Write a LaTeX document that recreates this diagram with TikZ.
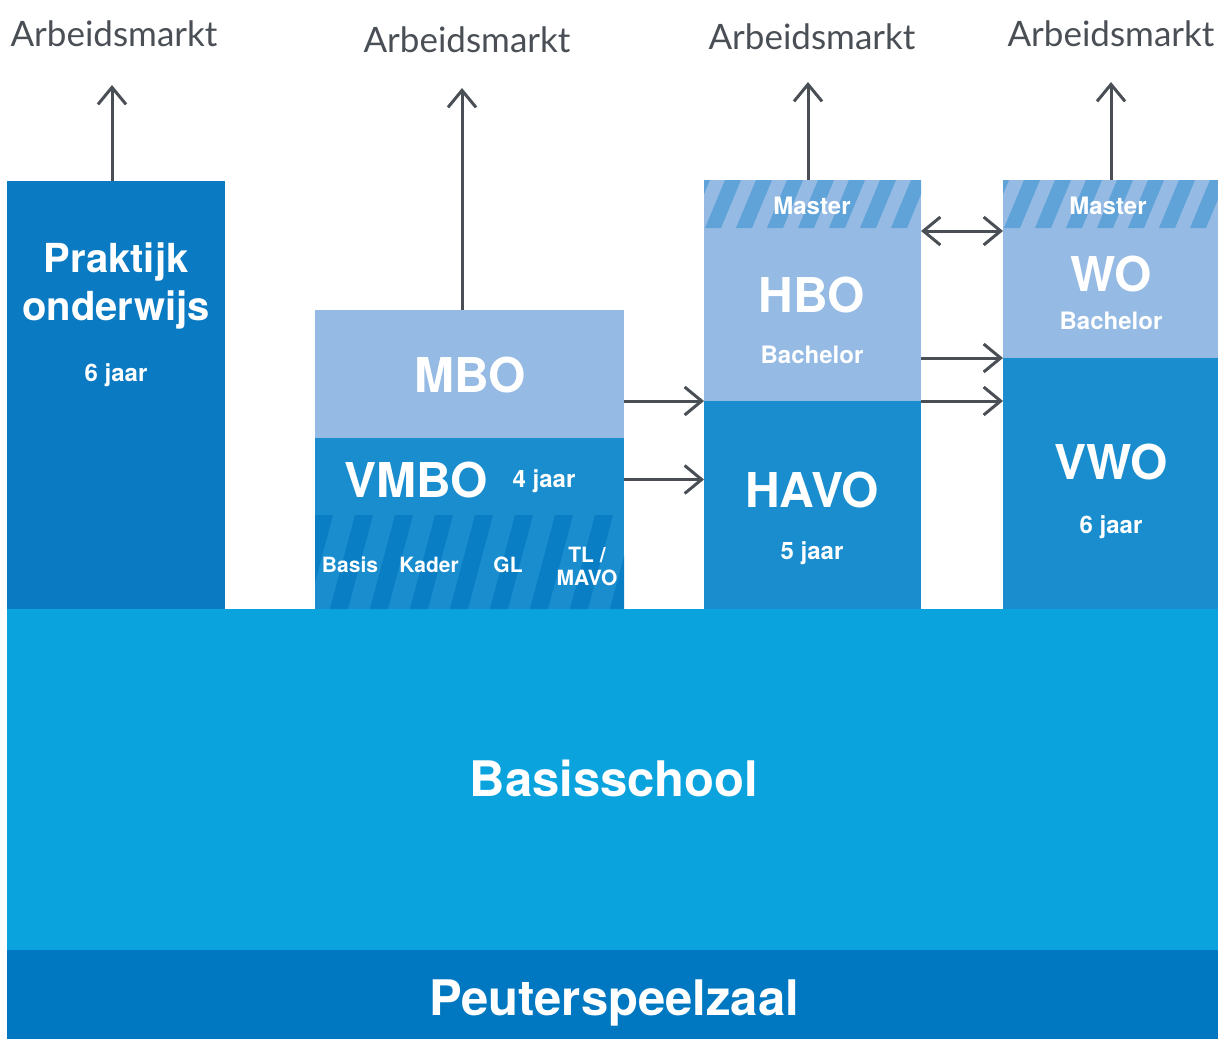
\documentclass[tikz,border=0pt]{standalone}
\usepackage{fontspec}
\setmainfont{TeX Gyre Heros}
\newfontfamily\handfont{Lato}
\usetikzlibrary{arrows.meta}

\definecolor{peuterblue}{HTML}{0078C1}
\definecolor{basisblue}{HTML}{0AA3DE}
\definecolor{prakblue}{HTML}{0A7AC2}
\definecolor{midblue}{HTML}{1A8DCE}
\definecolor{lightblue}{HTML}{95BAE3}
\definecolor{stripeblue}{HTML}{5FA3D9}
\definecolor{vmbostripe}{HTML}{0A7EC5}
\definecolor{arrowgray}{HTML}{4A4F55}

\begin{document}
\begin{tikzpicture} [
				x=1pt, y=-1pt,
				block/.style={inner sep=0pt, outer sep=0pt, anchor=north west},
				bigtxt/.style={text=white, anchor=base, font=\fontsize{48}{48}\selectfont\bfseries},
				midtxt/.style={text=white, anchor=base, font=\fontsize{40}{40}\selectfont\bfseries},
				smalltxt/.style={text=white, anchor=base, font=\fontsize{24}{24}\selectfont\bfseries},
				tinytxt/.style={text=white, anchor=base, font=\fontsize{21}{21}\selectfont\bfseries},
				arbeid/.style={text=arrowgray, anchor=base, inner sep=0pt, font=\handfont\fontsize{35}{35}\selectfont},
				conn/.style={draw=arrowgray, line width=3pt, -{Straight Barb[length=17pt, width=28pt]}},
				dconn/.style={conn, {Straight Barb[length=17pt, width=28pt]}-{Straight Barb[length=17pt, width=28pt]}}
			]
			\useasboundingbox (0,0) rectangle (1218,1039);
			\node[block, fill=peuterblue, minimum width=1211pt, minimum height=89pt] (peuter) at (7,950) {};
			\node[block, fill=basisblue, minimum width=1211pt, minimum height=341pt] (basis) at (7,609) {};
			\node[block, fill=prakblue, minimum width=218pt, minimum height=428pt] (prak) at (7,181) {};
			\node[block, fill=lightblue, minimum width=309pt, minimum height=128pt] (mbo) at (315,310) {};
			\node[block, fill=midblue, minimum width=309pt, minimum height=171pt] (vmbo) at (315,438) {};
			\node[block, fill=lightblue, minimum width=217pt, minimum height=221pt] (hbo) at (704,180) {};
			\node[block, fill=midblue, minimum width=217pt, minimum height=208pt] (havo) at (704,401) {};
			\node[block, fill=lightblue, minimum width=215pt, minimum height=178pt] (wo) at (1003,180) {};
			\node[block, fill=midblue, minimum width=215pt, minimum height=251pt] (vwo) at (1003,358) {};

			\begin{scope}
				\clip (315,515) rectangle (624,609);
				\foreach \x in {290,330,...,650}
					\fill[vmbostripe] (\x,609) -- ++(18,0) -- ++(25,-94) -- ++(-18,0) -- cycle;
			\end{scope}
			\begin{scope}
				\clip (704,180) rectangle (921,228);
				\foreach \x in {674,705,...,930}
					\fill[stripeblue] (\x,228) -- ++(16,0) -- ++(20,-48) -- ++(-16,0) -- cycle;
			\end{scope}
			\begin{scope}
				\clip (1003,180) rectangle (1218,228);
				\foreach \x in {973,1004,...,1230}
					\fill[stripeblue] (\x,228) -- ++(16,0) -- ++(20,-48) -- ++(-16,0) -- cycle;
			\end{scope}

			\node[midtxt] (praktxt) at (116,272) {Praktijk};
			\node[midtxt] (ondtxt) at (116,320) {onderwijs};
			\node[smalltxt] (prakjaar) at (116,381) {6 jaar};
			\node[bigtxt] (mbotxt) at (470,392) {MBO};
			\node[bigtxt] (vmbotxt) at (416,497) {VMBO};
			\node[smalltxt] (vmbojaar) at (544,487) {4 jaar};
			\node[tinytxt] (basistxt) at (350,572) {Basis};
			\node[tinytxt] (kadertxt) at (429,572) {Kader};
			\node[tinytxt] (gltxt) at (508,572) {GL};
			\node[tinytxt] (tltxt) at (587,562) {TL /};
			\node[tinytxt] (mavotxt) at (587,585) {MAVO};
			\node[smalltxt] (hbomaster) at (812,214) {Master};
			\node[bigtxt] (hbotxt) at (812,312) {HBO};
			\node[smalltxt] (hbobach) at (812,363) {Bachelor};
			\node[bigtxt] (havotxt) at (812,507) {HAVO};
			\node[smalltxt] (havojaar) at (812,559) {5 jaar};
			\node[smalltxt] (womaster) at (1108,214) {Master};
			\node[bigtxt] (wotxt) at (1111,291) {WO};
			\node[smalltxt] (wobach) at (1111,329) {Bachelor};
			\node[bigtxt] (vwotxt) at (1111,479) {VWO};
			\node[smalltxt] (vwojaar) at (1111,533) {6 jaar};
			\node[bigtxt, font=\fontsize{49}{49}\selectfont\bfseries] (basistitle) at (614,796) {Basisschool};
			\node[bigtxt, font=\fontsize{49}{49}\selectfont\bfseries] (peutertitle) at (614,1015) {Peuterspeelzaal};

			\node[arbeid] (arb1) at (114,46) {Arbeidsmarkt};
			\node[arbeid] (arb2) at (467,52) {Arbeidsmarkt};
			\node[arbeid] (arb3) at (812,49) {Arbeidsmarkt};
			\node[arbeid] (arb4) at (1111,46) {Arbeidsmarkt};
			\coordinate (up1) at (112,85);
			\coordinate (up2) at (462,88);
			\coordinate (up3) at (808,82);
			\coordinate (up4) at (1111,82);

			\draw[conn] (up1 |- prak.north) -- (up1);
			\draw[conn] (up2 |- mbo.north) -- (up2);
			\draw[conn] (up3 |- hbo.north) -- (up3);
			\draw[conn] (up4 |- wo.north) -- (up4);
			\draw[conn] (mbo.east |- havo.north) -- (havo.north west);
			\draw[conn] (vmbo.east |- vmbotxt) -- (havo.west |- vmbotxt);
			\draw[conn] (hbo.east |- vwo.north) -- (vwo.north west);
			\draw[conn] (havo.north east) -- (vwo.west |- havo.north east);
			\draw[dconn] ([yshift=-51pt]hbo.north east) -- ([yshift=-51pt]wo.north west);
		\end{tikzpicture}
\end{document}
